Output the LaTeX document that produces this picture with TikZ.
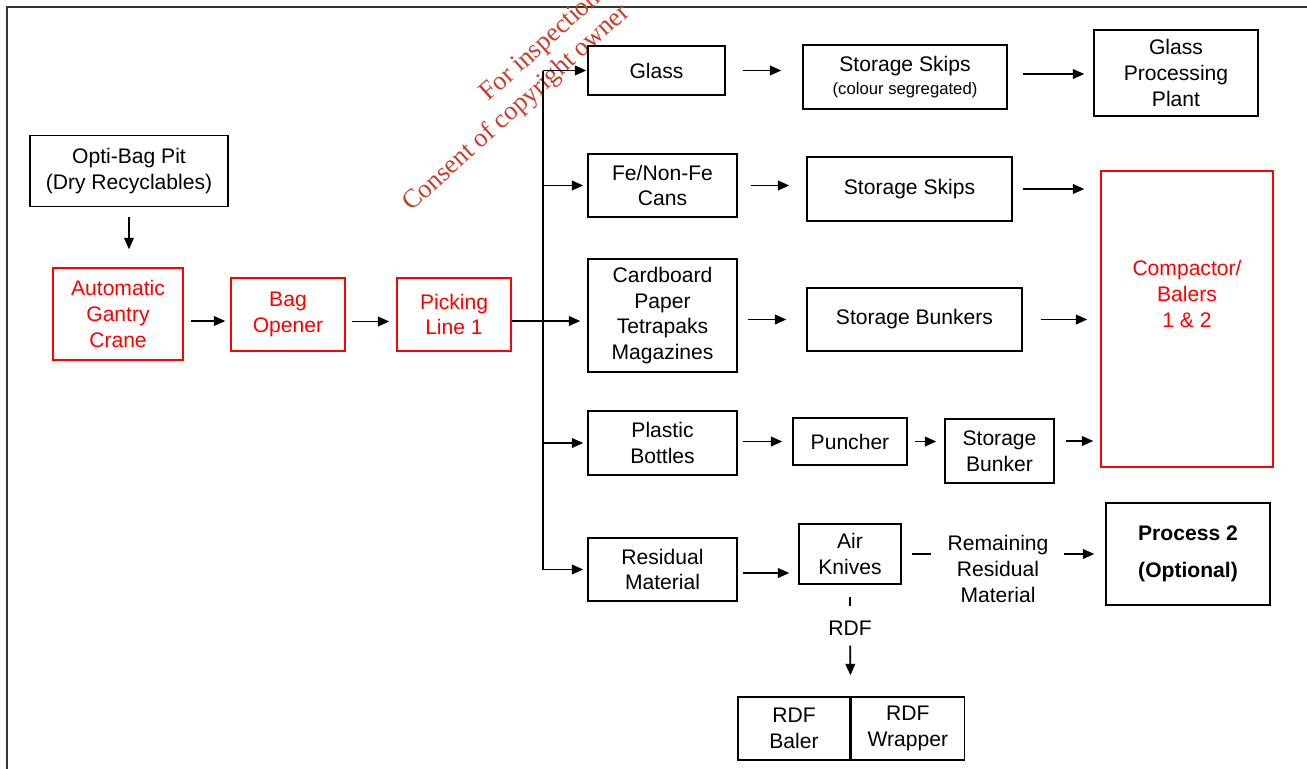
\documentclass[tikz,border=0pt]{standalone}
\usepackage{fontspec}
\setmainfont{Liberation Sans}
\newfontfamily\stampfont{Liberation Serif}
\usetikzlibrary{positioning, arrows.meta}
\definecolor{stampred}{RGB}{200,62,42}

\begin{document}
\begin{tikzpicture}[every node/.style={align=center, font=\fontsize{12}{14.7}\selectfont},
	box/.style={draw, line width=0.8pt, inner sep=0pt},
	redbox/.style={box, draw=red, text=red},
	flow/.style={-{Triangle[length=6.5pt,width=5.5pt]}, line width=1pt}]
			% Frame
			\useasboundingbox (0,0) rectangle (26.14,-15.38);
			\clip (0,0) rectangle (26.14,-15.38);
			\draw[line width=1.2pt, black!80] (0.14,-0.14) rectangle (26.6,-15.8);
			% Stamp
			\node[rotate=42, anchor=base west, text=stampred, font=\stampfont\fontsize{15}{18}\selectfont] (stamp1) at (9.68,-2.12) {For inspection};
			\node[rotate=42, anchor=base west, text=stampred, font=\stampfont\fontsize{15}{18}\selectfont] (stamp2) at (8.14,-4.32) {Consent of copyright owner};
			% Input
			\node[box, minimum width=3.96cm, minimum height=1.42cm] (pit) at (2.58,-3.42) {Opti-Bag Pit\\(Dry Recyclables)};
			\node[redbox, minimum width=2.6cm, minimum height=1.84cm] (crane) at (2.36,-6.28) {Automatic\\Gantry\\Crane};
			\node[redbox, minimum width=2.28cm, minimum height=1.46cm] (opener) at (5.76,-6.29) {Bag\\Opener};
			\node[redbox, minimum width=2.28cm, minimum height=1.46cm] (picking) at (9.08,-6.29) {Picking\\Line 1};
			\draw[flow, shorten <=0.2cm, shorten >=0.36cm] (pit.south) -- (pit.south |- crane.north);
			\draw[flow, shorten <=0.14cm, shorten >=0.1cm] ([yshift=-0.14cm]crane.east) -- ([yshift=-0.14cm]crane.east -| opener.west);
			\draw[flow, shorten <=0.12cm, shorten >=0.14cm] ([yshift=-0.14cm]opener.east) -- ([yshift=-0.14cm]opener.east -| picking.west);
			% Fractions
			\node[box, minimum width=2.74cm, minimum height=0.98cm] (glass) at (13.13,-1.41) {Glass};
			\node[box, minimum width=2.98cm, minimum height=1.26cm] (fe) at (13.25,-3.71) {Fe/Non-Fe\\Cans};
			\node[box, minimum width=2.98cm, minimum height=2.26cm] (card) at (13.25,-6.31) {Cardboard\\Paper\\Tetrapaks\\Magazines};
			\node[box, minimum width=2.98cm, minimum height=1.28cm] (plastic) at (13.25,-8.86) {Plastic\\Bottles};
			\node[box, minimum width=2.98cm, minimum height=1.26cm] (resid) at (13.25,-11.39) {Residual\\Material};
			\coordinate (bus) at (10.86,0);
			\draw[line width=1pt] (glass.west -| bus) -- (resid.west -| bus);
			\draw[flow, shorten >=0.02cm] (glass.west -| bus) -- (glass.west);
			\draw[flow, shorten >=0.08cm] (fe.west -| bus) -- (fe.west);
			\draw[flow, shorten >=0.08cm] (plastic.west -| bus) -- (plastic.west);
			\draw[flow, shorten >=0.08cm] (resid.west -| bus) -- (resid.west);
			\draw[flow, shorten >=0.14cm] ([yshift=-0.13cm]picking.east) -- ([yshift=-0.13cm]picking.east -| card.west);
			% Storage
			\node[box, minimum width=4.08cm, minimum height=1.28cm] (skips1) at (18.10,-1.54) {Storage Skips\\[-2pt]{\fontsize{9.5}{11}\selectfont(colour segregated)}};
			\node[box, minimum width=4.10cm, minimum height=1.28cm] (skips2) at (18.19,-3.78) {Storage Skips};
			\node[box, minimum width=4.30cm, minimum height=1.26cm] (bunkers) at (18.29,-6.39) {Storage Bunkers};
			\node[box, minimum width=2.28cm, minimum height=0.94cm] (puncher) at (17.0,-8.83) {Puncher};
			\node[box, minimum width=2.18cm, minimum height=1.28cm] (bunker) at (19.99,-9.02) {Storage\\Bunker};
			\node[box, minimum width=2.04cm, minimum height=1.20cm] (air) at (17.0,-11.08) {Air\\Knives};
			\draw[flow, shorten <=0.34cm, shorten >=0.42cm] (glass.east) -- (glass.east -| skips1.west);
			\draw[flow, shorten <=0.26cm, shorten >=0.34cm] (fe.east) -- (fe.east -| skips2.west);
			\draw[flow, shorten <=0.2cm, shorten >=0.4cm] (card.east |- bunkers.west) -- (bunkers.west);
			\draw[flow, shorten <=0.1cm, shorten >=0.2cm] (plastic.east |- puncher.west) -- (puncher.west);
			\draw[flow, shorten <=0.14cm, shorten >=0.16cm] (puncher.east) -- (puncher.east -| bunker.west);
			\draw[flow, shorten <=0.1cm, shorten >=0.18cm] ([yshift=-0.07cm]resid.east) -- ([yshift=-0.07cm]resid.east -| air.west);
			% Outputs
			\node[box, minimum width=3.28cm, minimum height=1.72cm] (plant) at (23.52,-1.46) {Glass\\Processing\\Plant};
			\node[redbox, minimum width=3.44cm, minimum height=5.92cm] (comp) at (23.74,-6.38) {};
			\node[text=red] (complbl) at (23.74,-5.88) {Compactor/\\Balers\\1 \& 2};
			\node[box, minimum width=3.28cm, minimum height=2.04cm, font=\bfseries\fontsize{12}{14.7}\selectfont] (proc2) at (23.76,-11.08) {Process 2\\[6pt](Optional)};
			\draw[flow, shorten <=0.3cm, shorten >=0.18cm] ([yshift=0.06cm]skips1.east) -- ([yshift=0.06cm]skips1.east -| plant.west);
			\draw[flow, shorten <=0.2cm, shorten >=0.32cm] (skips2.east) -- (skips2.east -| comp.west);
			\draw[flow, shorten <=0.36cm, shorten >=0.26cm] (bunkers.east) -- (bunkers.east -| comp.west);
			\draw[flow, shorten <=0.22cm, shorten >=0.14cm] ([yshift=0.2cm]bunker.east) -- ([yshift=0.2cm]bunker.east -| comp.west);
			% Residual
			\node[inner sep=0pt] (rem) at (19.96,-11.38) {Remaining\\Residual\\Material};
			\draw[line width=1pt, shorten <=0.2cm, shorten >=0.32cm] (air.east) -- (air.east -| rem.west);
			\draw[flow, shorten <=0.3cm, shorten >=0.22cm] (air.east -| rem.east) -- (proc2.west);
			% RDF
			\node[inner sep=0pt] (rdf) at (17.0,-12.56) {RDF};
			\node[box, minimum width=2.24cm, minimum height=1.26cm] (baler) at (15.88,-14.57) {RDF\\Baler};
			\node[box, minimum width=2.26cm, minimum height=1.26cm, right=0pt of baler] (wrapper) {RDF\\Wrapper};
			\draw[line width=1pt, shorten <=0.24cm, shorten >=0.28cm] (air.south) -- (rdf.north);
			\draw[flow, shorten <=0.2cm, shorten >=0.42cm] (rdf.south) -- (baler.north east);
		\end{tikzpicture}
\end{document}
